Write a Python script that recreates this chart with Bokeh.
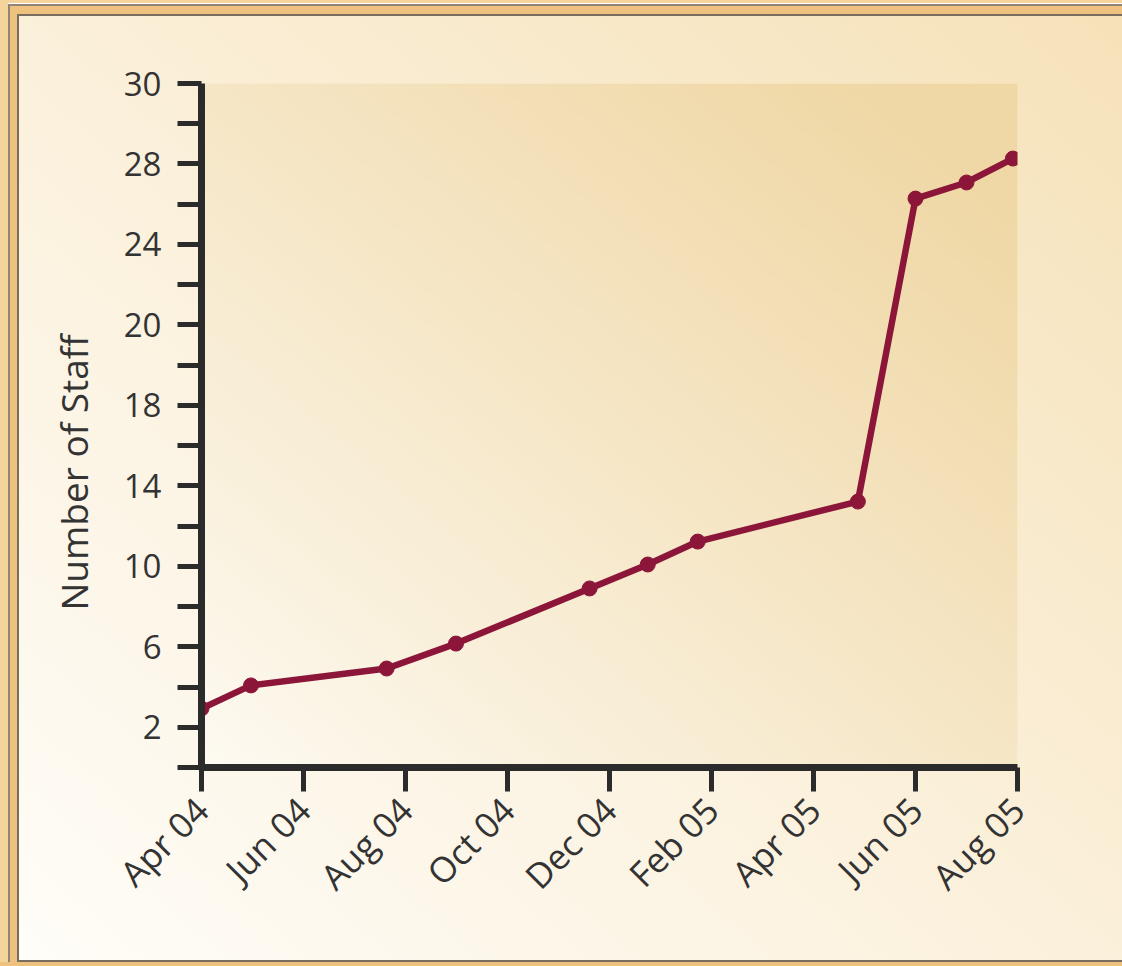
import numpy as np
from bokeh.plotting import figure
from bokeh.models import FixedTicker, Range1d, Title
from bokeh.embed import file_html
from bokeh.resources import INLINE

# ---- data (month index from Apr 2004, staff count on the chart's linear scale) ----
months = [0, 0.97, 3.63, 4.99, 7.61, 8.75, 9.73, 12.87, 14.0, 15.0, 15.91]
staff = [2.93, 4.08, 4.92, 6.16, 8.90, 10.09, 11.23, 13.22, 28.28, 29.08, 30.27]

x_tick_pos = [0, 2, 4, 6, 8, 10, 12, 14, 16]
x_tick_labels = ["Apr 04", "Jun 04", "Aug 04", "Oct 04", "Dec 04",
                 "Feb 05", "Apr 05", "Jun 05", "Aug 05"]
y_tick_pos = [2, 6, 10, 14, 18, 22, 26, 30, 34]
y_tick_labels = ["2", "6", "10", "14", "18", "20", "24", "28", "30"]
y_minor_pos = [0, 4, 8, 12, 16, 20, 24, 28, 32]

X_MAX = 16
Y_MAX = 34

LINE_COLOR = "#8c1639"
AXIS_COLOR = "#2b2b2b"
TEXT_COLOR = "#333333"
FONT = "Open Sans"

p = figure(width=1122, height=966, output_backend="svg", toolbar_location=None,
           x_range=Range1d(0, X_MAX), y_range=Range1d(0, Y_MAX),
           min_border_left=201, min_border_right=105, min_border_top=83,
           min_border_bottom=199)

GOLD = "#eec27e"
DARK = "#776d61"
GRAY = "#8f8577"
p.styles = {
    "background": ", ".join([
        f"linear-gradient({GOLD},{GOLD}) left 0 bottom 0 / 100% 4px no-repeat",
        f"linear-gradient({DARK},{DARK}) left 17px bottom 4px / 100% 2px no-repeat",
        f"linear-gradient({DARK},{DARK}) left 17px top 14px / 100% 2px no-repeat",
        f"linear-gradient({DARK},{DARK}) left 17px top 14px / 2px 100% no-repeat",
        f"linear-gradient({GRAY},{GRAY}) left 8px top 4px / 100% 2px no-repeat",
        "linear-gradient(#ffffff,#ffffff) left 8px top 3px / 100% 1px no-repeat",
        f"linear-gradient({GRAY},{GRAY}) left 8px top 4px / 2px 100% no-repeat",
        "linear-gradient(to top right, #fffdf8 0%, #fbf1dd 45%, #f6e2b9 100%) "
        "left 19px top 16px / calc(100% - 19px) calc(100% - 22px) no-repeat",
        f"linear-gradient({GOLD},{GOLD}) left 10px top 6px / 100% 100% no-repeat",
        "#f5d49c",
    ]),
}
p.border_fill_alpha = 0
p.background_fill_color = None
p.outline_line_color = None
p.grid.visible = False

# gradient backdrop of the plotting area
n = 128
xs = np.linspace(0, 1, n)
ys = np.linspace(0, 1, n)
XX, YY = np.meshgrid(xs, ys)
t = np.clip(0.55 * XX + 0.55 * YY, 0, 1) ** 0.9
c0 = np.array([254, 251, 243])
c1 = np.array([240, 216, 166])
img = np.empty((n, n), dtype=np.uint32)
view = img.view(dtype=np.uint8).reshape((n, n, 4))
for k in range(3):
    view[:, :, k] = (c0[k] + (c1[k] - c0[k]) * t).astype(np.uint8)
view[:, :, 3] = 255
p.image_rgba(image=[img], x=0, y=0, dw=X_MAX, dh=Y_MAX)

# series
p.line(months, staff, line_width=6.5, color=LINE_COLOR, line_join="round")
p.scatter(months, staff, size=15, color=LINE_COLOR)

# x axis
xa = p.xaxis[0]
xa.ticker = FixedTicker(ticks=x_tick_pos, minor_ticks=[])
xa.major_label_overrides = {k: v for k, v in zip(x_tick_pos, x_tick_labels)}
xa.major_label_orientation = np.pi / 4
xa.axis_line_width = 7
xa.axis_line_color = AXIS_COLOR
xa.major_tick_line_width = 5
xa.major_tick_line_color = AXIS_COLOR
xa.major_tick_out = 24
xa.major_tick_in = 0
xa.major_label_text_font = FONT
xa.major_label_text_font_size = "35px"
xa.major_label_text_color = TEXT_COLOR
xa.major_label_standoff = 12

# y axis
ya = p.yaxis[0]
ya.ticker = FixedTicker(ticks=y_tick_pos, minor_ticks=y_minor_pos)
ya.major_label_overrides = {k: v for k, v in zip(y_tick_pos, y_tick_labels)}
ya.axis_line_width = 7
ya.axis_line_color = AXIS_COLOR
ya.major_tick_line_width = 5
ya.major_tick_line_color = AXIS_COLOR
ya.major_tick_out = 24
ya.major_tick_in = 0
ya.minor_tick_line_width = 5
ya.minor_tick_line_color = AXIS_COLOR
ya.minor_tick_out = 24
ya.minor_tick_in = 0
ya.major_label_text_font = FONT
ya.major_label_text_font_size = "33px"
ya.major_label_text_color = TEXT_COLOR
ya.major_label_standoff = 16

p.add_layout(Title(text="Number of Staff", align="left", offset=157,
                   text_font=FONT, text_font_size="37px", text_font_style="normal",
                   text_color=TEXT_COLOR, standoff=43), "left")

open("out.html", "w").write(file_html(p, INLINE))
